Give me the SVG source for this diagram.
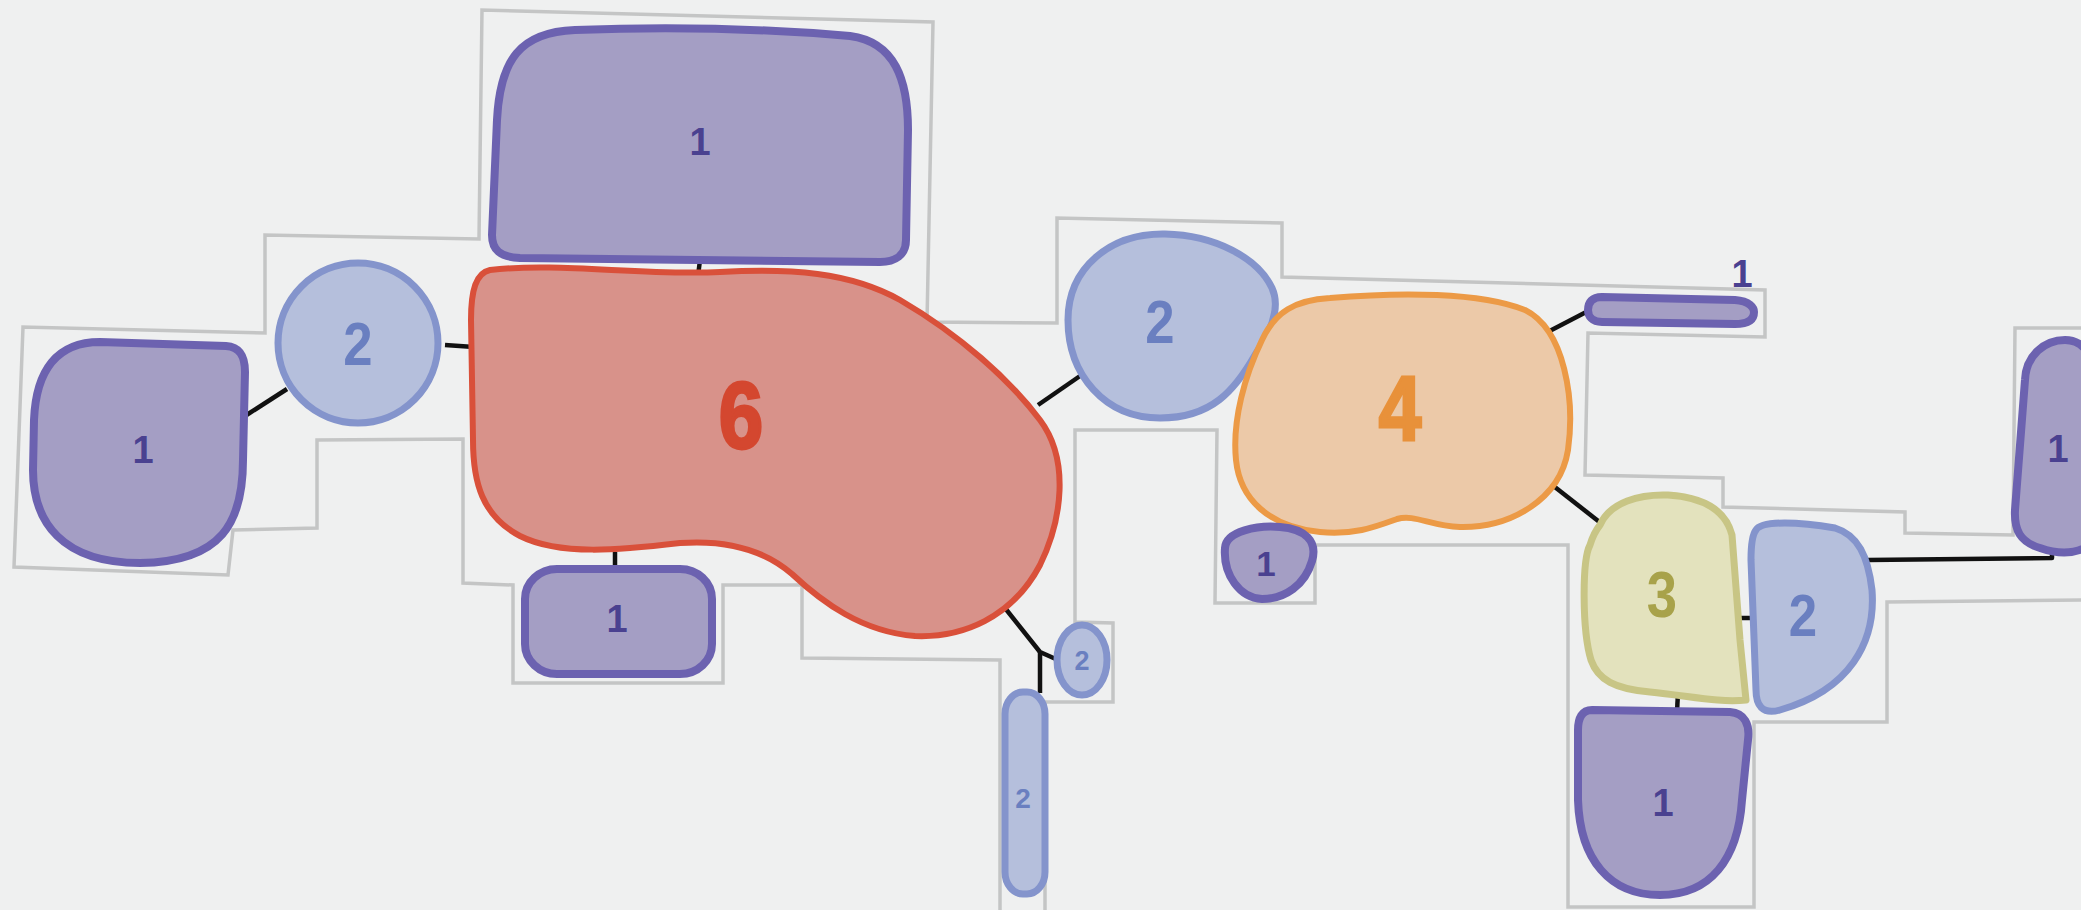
<svg xmlns="http://www.w3.org/2000/svg" width="2081" height="910" viewBox="0 0 2081 910">
<defs>
<style>
.bg{fill:#eff0f0}
.outline{fill:none;stroke:#c4c5c5;stroke-width:3.5;stroke-linejoin:miter}
.conn{fill:none;stroke:#111;stroke-width:4.5;stroke-linecap:butt;stroke-linejoin:round}
.n1{fill:#a49ec4;stroke:#6c62b0;stroke-width:8;stroke-linejoin:round}
.n2{fill:#b5bfdc;stroke:#8494cc;stroke-width:7;stroke-linejoin:round}
.n6{fill:#d8928a;stroke:#d9503a;stroke-width:6;stroke-linejoin:round}
.n4{fill:#ecc9a8;stroke:#ec9a46;stroke-width:6;stroke-linejoin:round}
.n3{fill:#e3e2bd;stroke:#c8c585;stroke-width:7;stroke-linejoin:round}
.t{font-family:"Liberation Sans","DejaVu Sans",sans-serif;text-anchor:middle;font-weight:bold}
.t1{fill:#4a4190}
.t2{fill:#6a7fc0}
.t6{fill:#d4472f;stroke:#d4472f;stroke-width:3}
.t4{fill:#e8913a;stroke:#e8913a;stroke-width:3}
.t3{fill:#a8a24a}
</style>
</defs>
<rect class="bg" x="0" y="0" width="2081" height="910"/>

<g id="outline">
<polyline class="outline" points="2090,328 2015,328 2013,535 1905,533 1905,512 1723,507 1723,478 1585,475 1588,333 1765,337 1765,290 1282,277 1282,223 1057,218 1057,323 927,322 933,22 482,10 479,239 265,235 265,333 23,327 14,567 228,575 233,530 317,528 317,440 463,439 463,583 513,585 513,683 723,683 723,585 802,585 802,658 1000,660 1000,920"/>
<polyline class="outline" points="1045,920 1045,702 1113,702 1113,623 1075,622 1075,430 1217,430 1215,603 1315,603 1315,545 1568,545 1568,907 1754,907 1754,722 1887,722 1887,602 2090,600"/>
</g>

<g id="connectors">
<line class="conn" x1="245" y1="416" x2="287" y2="389"/>
<line class="conn" x1="445" y1="345" x2="474" y2="347"/>
<line class="conn" x1="700" y1="260" x2="698" y2="276"/>
<line class="conn" x1="615" y1="552" x2="615" y2="570"/>
<polyline class="conn" points="1005,608 1040,652 1058,660"/>
<line class="conn" x1="1040" y1="652" x2="1040" y2="693"/>
<line class="conn" x1="1038" y1="405" x2="1080" y2="376"/>
<line class="conn" x1="1246" y1="357" x2="1265" y2="368"/>
<line class="conn" x1="1540" y1="336" x2="1592" y2="309"/>
<line class="conn" x1="1289" y1="513" x2="1281" y2="530"/>
<line class="conn" x1="1551" y1="484" x2="1602" y2="524"/>
<line class="conn" x1="1740" y1="618" x2="1755" y2="618"/>
<line class="conn" x1="1678" y1="692" x2="1677" y2="712"/>
<polyline class="conn" points="1868,560 2052,558 2052,546"/>
</g>

<g id="node-top-1">
<path class="n1" d="M 575,30 C 680,26 780,30 850,36 C 895,42 908,80 908,130 L 906,240 C 906,255 895,262 880,262 L 520,258 C 500,257 492,250 492,235 L 497,120 C 500,60 520,32 575,30 Z"/>
<text class="t t1" x="700" y="155" font-size="38">1</text>
</g>

<g id="node-left-1">
<path class="n1" d="M 100,342 L 226,346 C 240,347 245,356 245,372 L 243,460 C 243,522 222,562 140,563 C 62,563 33,522 33,470 L 34,420 C 36,370 57,342 100,342 Z"/>
<text class="t t1" x="143" y="463" font-size="38">1</text>
</g>

<g id="node-left-2">
<circle class="n2" cx="358" cy="343" r="80"/>
<text class="t t2" x="0" y="0" font-size="62" transform="translate(358,365) scale(0.85,1)">2</text>
</g>

<g id="node-6">
<path class="n6" d="M 490,270 C 560,262 640,276 720,272 C 790,268 850,272 900,300 C 960,335 1010,380 1040,420 C 1070,460 1062,520 1040,565 C 1012,618 962,638 915,636 C 862,632 822,602 792,574 C 762,548 722,540 680,543 C 620,550 560,556 520,536 C 482,516 473,482 473,440 L 471,320 C 471,290 476,273 490,270 Z"/>
<text class="t t6" x="0" y="0" font-size="94" transform="translate(741,448) scale(0.85,1)">6</text>
</g>

<g id="node-bottom-1">
<rect class="n1" x="525" y="569" width="187" height="105" rx="32" ry="30"/>
<text class="t t1" x="617" y="632" font-size="38">1</text>
</g>

<g id="node-small-2">
<ellipse class="n2" cx="1082" cy="660" rx="25" ry="35"/>
<text class="t t2" x="1082" y="670" font-size="27" font-weight="normal">2</text>
</g>

<g id="node-tall-2">
<rect class="n2" x="1005" y="692" width="40" height="202" rx="18" ry="22"/>
<text class="t t2" x="1023" y="808" font-size="28" font-weight="normal">2</text>
</g>

<g id="node-mid-2">
<path class="n2" d="M 1068,320 C 1068,268 1110,233 1165,234 C 1215,235 1258,258 1272,288 C 1282,310 1268,335 1255,355 C 1235,390 1212,418 1160,418 C 1105,418 1068,375 1068,320 Z"/>
<text class="t t2" x="0" y="0" font-size="62" transform="translate(1160,343) scale(0.85,1)">2</text>
</g>

<g id="node-4">
<path class="n4" d="M 1330,298 C 1400,292 1480,292 1525,310 C 1565,330 1575,400 1568,450 C 1560,500 1510,528 1460,527 C 1430,526 1415,514 1397,519 C 1375,527 1355,535 1320,532 C 1270,527 1240,500 1236,460 C 1232,420 1245,375 1262,340 C 1275,312 1295,300 1330,298 Z"/>
<text class="t t4" x="0" y="0" font-size="90" transform="translate(1400,440) scale(0.85,1)">4</text>
</g>

<g id="node-pill-1">
<path class="n1" d="M 1602,297 L 1735,300 C 1750,301 1754,308 1754,312 C 1754,320 1748,324 1735,324 L 1602,322 C 1592,322 1588,316 1588,310 C 1588,302 1592,297 1602,297 Z"/>
<text class="t t1" x="1742" y="287" font-size="38">1</text>
</g>

<g id="node-small-1">
<path class="n1" d="M 1225,548 C 1226,531 1258,525 1280,527 C 1305,529 1318,541 1312,561 C 1305,585 1285,599 1262,599 C 1240,598 1223,575 1225,548 Z"/>
<text class="t t1" x="1266" y="576" font-size="35">1</text>
</g>

<g id="node-3">
<path class="n3" d="M 1600,525 C 1610,502 1640,494 1668,495 C 1700,497 1725,508 1732,535 L 1740,640 L 1746,700 C 1720,703 1690,696 1650,692 C 1615,689 1598,680 1591,660 C 1582,630 1582,560 1590,545 C 1593,535 1596,530 1600,525 Z"/>
<text class="t t3" x="0" y="0" font-size="64" transform="translate(1662,617) scale(0.85,1)">3</text>
</g>

<g id="node-right-2">
<path class="n2" d="M 1756,530 C 1762,520 1800,522 1835,528 C 1858,535 1868,556 1872,590 C 1876,642 1850,690 1780,710 C 1762,715 1756,705 1756,690 L 1751,560 C 1751,545 1752,535 1756,530 Z"/>
<text class="t t2" x="0" y="0" font-size="60" transform="translate(1803,636) scale(0.85,1)">2</text>
</g>

<g id="node-bottom-right-1">
<path class="n1" d="M 1592,710 L 1730,712 C 1745,713 1750,725 1748,740 L 1742,800 C 1738,860 1710,895 1660,895 C 1610,895 1580,860 1578,800 L 1578,730 C 1578,718 1582,710 1592,710 Z"/>
<text class="t t1" x="1663" y="816" font-size="38">1</text>
</g>

<g id="node-right-1">
<path class="n1" d="M 2025,380 C 2026,355 2045,340 2065,340 C 2085,340 2096,360 2096,380 L 2096,540 C 2080,555 2060,555 2040,548 C 2020,542 2014,530 2015,510 Z"/>
<text class="t t1" x="2058" y="462" font-size="38">1</text>
</g>
</svg>
